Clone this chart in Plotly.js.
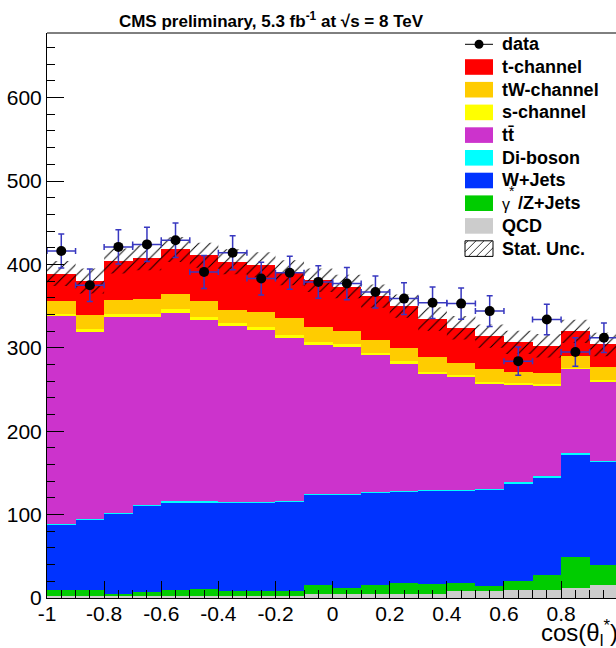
<!DOCTYPE html>
<html>
<head>
<meta charset="utf-8">
<script src="https://cdn.plot.ly/plotly-3.0.1.min.js"></script>
<style>
html, body { margin: 0; padding: 0; background: #fff; overflow: hidden; }
#plot { width: 616px; height: 648px; }
</style>
</head>
<body>
<div id="plot"></div>
<script>
// cos(theta_l*) distribution, 20 bins of width 0.1
const binCenters = [-0.95, -0.85, -0.75, -0.65, -0.55, -0.45, -0.35, -0.25, -0.15, -0.05,
                    0.05, 0.15, 0.25, 0.35, 0.45, 0.55, 0.65, 0.75, 0.85, 0.95];
const binEdges = [-1, -0.9, -0.8, -0.7, -0.6, -0.5, -0.4, -0.3, -0.2, -0.1, 0,
                  0.1, 0.2, 0.3, 0.4, 0.5, 0.6, 0.7, 0.8, 0.9, 1.0];

// observed events
const dataCounts = [416, 375, 421, 424, 429, 391, 414, 383, 390, 379,
                    377, 367, 359, 354, 353, 344, 284, 334, 295, 312];

// simulated processes (events per bin)
const qcd       = [3, 3, 3, 3, 3, 3, 3, 3, 3, 4.3, 4.3, 5.1, 5.3, 5.3, 8.3, 8.3, 9.1, 9.9, 12.3, 15.1];
const zJets     = [6, 6, 1.5, 4, 6, 7.3, 5, 5, 5, 11.7, 7.7, 10.9, 12.2, 11.8, 9.6, 5.6, 11.6, 17.6, 36.4, 24.4];
const wJets     = [78, 84, 96.1, 102.8, 105.3, 104, 106, 106, 106.7, 107.8,
                   111.8, 110.2, 109.9, 111.5, 110.7, 115.1, 116.3, 116.7, 123.1, 123.1];
const diBoson   = [1.5, 1.5, 1.5, 1.5, 1.5, 1.5, 1.5, 1.5, 1.5, 1.5, 1.5, 1.5, 1.5, 1.5, 1.5, 1.5, 1.5, 1.5, 1.5, 1.5];
const ttbar     = [249.5, 224.5, 234.4, 225.7, 226.2, 217.2, 210.2, 206.2, 195.6, 178.5,
                   175.5, 163.3, 152.1, 137.9, 134.4, 126, 117.5, 108.8, 100.7, 94.9];
const sChannel  = [3, 3, 3.5, 3, 4, 4, 3.9, 3.8, 4, 2.7, 3.2, 3.2, 2.8, 3, 2.7, 2.5, 2.2, 2, 1.8, 2];
const tWChannel = [14.6, 17.7, 17, 18, 19, 19.3, 16.2, 17.3, 19.4, 18.5,
                   16, 15.3, 16.2, 18.5, 14.8, 15, 12.8, 13.5, 14.2, 16];
const tChannel  = [33.4, 40.3, 47, 50, 53, 54.7, 57.4, 56.9, 54.8, 56,
                   53.5, 52.5, 50, 45, 42, 40, 35.5, 32.5, 29.7, 27];

// statistical uncertainty of the summed simulation
const statUnc = [15, 15, 15, 15, 15, 15, 15, 15, 15, 14, 14, 14, 14, 14, 14, 14, 14, 14, 14, 14];

// axis ticks
const xTickVals = [-1, -0.8, -0.6, -0.4, -0.2, 0, 0.2, 0.4, 0.6, 0.8];
const xTickText = ['-1', '-0.8', '-0.6', '-0.4', '-0.2', '0', '0.2', '0.4', '0.6', '0.8'];
const yTickVals = [0, 100, 200, 300, 400, 500, 600];
const yTickText = ['0', '100', '200', '300', '400', '500', '600'];

// stack, bottom to top
const stack = [
  { name: 'QCD',           y: qcd,       color: '#cccccc' },
  { name: 'γ*/Z+Jets',     y: zJets,     color: '#00cc00' },
  { name: 'W+Jets',        y: wJets,     color: '#0033ff' },
  { name: 'Di-boson',      y: diBoson,   color: '#00ffff' },
  { name: 'tt̄',           y: ttbar,     color: '#cc33cc' },
  { name: 's-channel',     y: sChannel,  color: '#ffff00' },
  { name: 'tW-channel',    y: tWChannel, color: '#ffcc00' },
  { name: 't-channel',     y: tChannel,  color: '#ff0000' }
];

const traces = stack.map(p => ({
  type: 'bar', x: binCenters, y: p.y, width: 0.1, name: p.name,
  marker: { color: p.color, line: { width: 0 } },
  showlegend: false, hoverinfo: 'skip'
}));

// summed prediction and its uncertainty band (step shaped)
const total = binCenters.map((_, i) => stack.reduce((s, p) => s + p.y[i], 0));
const lo = total.map((t, i) => t - statUnc[i]);
const hi = total.map((t, i) => t + statUnc[i]);
lo.push(lo[lo.length - 1]);
hi.push(hi[hi.length - 1]);

traces.push({
  type: 'scatter', mode: 'lines', x: binEdges, y: lo,
  line: { width: 0, shape: 'hv' }, showlegend: false, hoverinfo: 'skip'
});
traces.push({
  type: 'scatter', mode: 'lines', x: binEdges, y: hi,
  line: { width: 0, shape: 'hv' }, fill: 'tonexty',
  fillcolor: 'rgba(0,0,0,0)',
  fillpattern: { shape: '/', fgcolor: '#000000', bgcolor: 'rgba(0,0,0,0)', size: 8, solidity: 0.12 },
  showlegend: false, hoverinfo: 'skip'
});

// data with Poisson errors
const errColor = '#3838c0';
traces.push({
  type: 'scatter', mode: 'markers', x: binCenters, y: dataCounts,
  marker: { color: '#000000', size: 10 },
  error_y: { type: 'data', array: dataCounts.map(n => Math.sqrt(n)), color: errColor, thickness: 1.5, width: 3 },
  error_x: { type: 'constant', value: 0.05, color: errColor, thickness: 1.5, width: 3 },
  showlegend: false, hoverinfo: 'skip'
});

// plot area in pixels
const W = 616, H = 648;
const L = 47, R = 0, T = 33, B = 50;
const pw = W - L - R, ph = H - T - B;
const px = x => (x - L) / pw;
const py = y => (H - B - y) / ph;

const font = 'Liberation Sans, Arial, Helvetica, sans-serif';
const shapes = [];
const annotations = [];

// top frame edge
shapes.push({ type: 'line', xref: 'paper', yref: 'paper', x0: 0, x1: 1, y0: 1, y1: 1,
              line: { color: '#000000', width: 1 } });

// legend
const legX0 = 465, legX1 = 493, legText = 500, rowTop = 44.3, rowStep = 22.7, halfH = 7.8;
const legendRows = [
  { label: 'data', kind: 'data' },
  { label: 't-channel',  color: '#ff0000' },
  { label: 'tW-channel', color: '#ffcc00' },
  { label: 's-channel',  color: '#ffff00' },
  { label: 'tt̄',        color: '#cc33cc' },
  { label: 'Di-boson',   color: '#00ffff' },
  { label: 'W+Jets',     color: '#0033ff' },
  { label: 'gammaZ',     color: '#00cc00' },
  { label: 'QCD',        color: '#cccccc' },
  { label: 'Stat. Unc.', kind: 'hatch' }
];

legendRows.forEach((row, i) => {
  const yc = rowTop + i * rowStep;
  if (row.kind === 'data') {
    shapes.push({ type: 'line', xref: 'paper', yref: 'paper', x0: px(legX0), x1: px(legX1),
                  y0: py(yc), y1: py(yc), line: { color: '#000000', width: 1 } });
    shapes.push({ type: 'circle', xref: 'paper', yref: 'paper', xsizemode: 'pixel', ysizemode: 'pixel',
                  xanchor: px((legX0 + legX1) / 2), yanchor: py(yc), x0: -4.5, x1: 4.5, y0: -4.5, y1: 4.5,
                  fillcolor: '#000000', line: { width: 0 } });
  } else if (row.kind === 'hatch') {
    const top = yc - halfH, bot = yc + halfH, h = bot - top;
    shapes.push({ type: 'rect', xref: 'paper', yref: 'paper', x0: px(legX0), x1: px(legX1),
                  y0: py(bot), y1: py(top), fillcolor: '#ffffff', line: { color: '#000000', width: 1 } });
    for (let xs = legX0 - h + 3; xs < legX1; xs += 8) {
      const t0 = Math.max(0, legX0 - xs), t1 = Math.min(h, legX1 - xs);
      if (t1 <= t0) continue;
      shapes.push({ type: 'line', xref: 'paper', yref: 'paper',
                    x0: px(xs + t0), y0: py(bot - t0), x1: px(xs + t1), y1: py(bot - t1),
                    line: { color: '#000000', width: 0.8 } });
    }
  } else {
    shapes.push({ type: 'rect', xref: 'paper', yref: 'paper', x0: px(legX0), x1: px(legX1),
                  y0: py(yc + halfH), y1: py(yc - halfH), fillcolor: row.color, line: { width: 0 } });
  }
  if (row.label === 'gammaZ') {
    annotations.push({ xref: 'paper', yref: 'paper', x: px(legText), y: py(yc + 1), xanchor: 'left', yanchor: 'middle',
                       text: 'γ', showarrow: false, font: { family: font, size: 16, color: '#000' } });
    annotations.push({ xref: 'paper', yref: 'paper', x: px(507), y: py(yc - 12), xanchor: 'left', yanchor: 'middle',
                       text: '*', showarrow: false, font: { family: font, size: 14, color: '#000' } });
    annotations.push({ xref: 'paper', yref: 'paper', x: px(516), y: py(yc), xanchor: 'left', yanchor: 'middle',
                       text: '<b>/Z+Jets</b>', showarrow: false, font: { family: font, size: 18, color: '#000' } });
  } else {
    annotations.push({ xref: 'paper', yref: 'paper', x: px(legText), y: py(yc), xanchor: 'left', yanchor: 'middle',
                       text: '<b>' + row.label + '</b>', showarrow: false,
                       font: { family: font, size: 18, color: '#000' } });
  }
});

// x-axis title
annotations.push({ xref: 'paper', yref: 'paper', x: px(539), y: py(633), xanchor: 'left', yanchor: 'middle',
                   text: 'cos(θ<sub>l</sub><sup>*</sup>)', showarrow: false,
                   font: { family: font, size: 24, color: '#000' } });

const layout = {
  width: W, height: H,
  margin: { l: L, r: R, t: T, b: B, pad: 0 },
  paper_bgcolor: '#ffffff', plot_bgcolor: '#ffffff',
  barmode: 'stack', bargap: 0,
  showlegend: false,
  title: {
    text: '<b>CMS preliminary, 5.3 fb<sup>-1</sup> at √s = 8 TeV</b>',
    font: { family: font, size: 17, color: '#000' },
    xref: 'container', x: 271 / W, xanchor: 'center',
    yref: 'container', y: 1 - 21 / H, yanchor: 'middle'
  },
  xaxis: {
    range: [-1, -1 + pw / 285.6],
    tickmode: 'array', tickvals: xTickVals, ticktext: xTickText,
    ticks: 'inside', ticklen: 17, tickwidth: 1, tickcolor: '#000',
    minor: { tickmode: 'linear', tick0: 0, dtick: 0.05, ticks: 'inside', ticklen: 8, tickwidth: 1, tickcolor: '#000' },
    showline: true, linecolor: '#000', linewidth: 1, mirror: false,
    showgrid: false, zeroline: false,
    tickfont: { family: font, size: 21, color: '#000' },
    ticklabelstandoff: -3
  },
  yaxis: {
    range: [0, ph / 0.834],
    tickmode: 'array', tickvals: yTickVals, ticktext: yTickText,
    ticks: 'inside', ticklen: 17, tickwidth: 1, tickcolor: '#000',
    minor: { tickmode: 'linear', tick0: 0, dtick: 20, ticks: 'inside', ticklen: 8, tickwidth: 1, tickcolor: '#000' },
    showline: true, linecolor: '#000', linewidth: 1, mirror: false,
    showgrid: false, zeroline: false,
    tickfont: { family: font, size: 21, color: '#000' },
    ticklabelstandoff: 0
  },
  shapes: shapes,
  annotations: annotations
};

Plotly.newPlot('plot', traces, layout, { staticPlot: true, displayModeBar: false });
</script>
</body>
</html>
